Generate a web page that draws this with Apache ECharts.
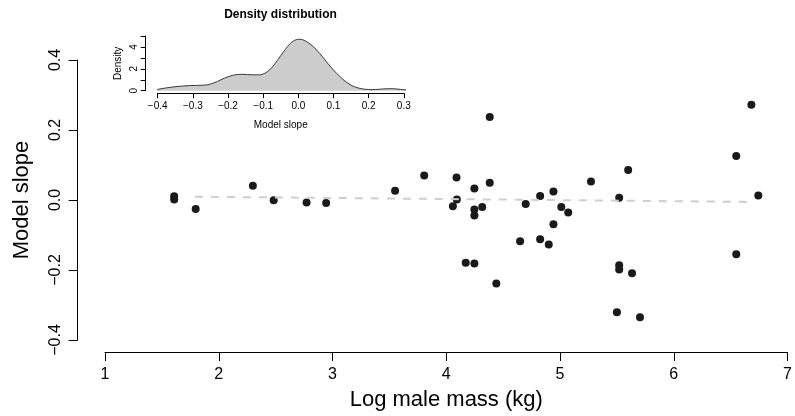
<!DOCTYPE html>
<html><head><meta charset="utf-8">
<script src="https://cdn.jsdelivr.net/npm/echarts@6/dist/echarts.min.js"></script>
<style>html,body{margin:0;padding:0;background:#fff}#c{width:795px;height:416px}</style>
</head><body><div id="c"></div>
<script>
// Main scatter: log male mass (kg) vs model slope
const massX = [1.608, 1.608, 1.797, 2.30, 2.483, 2.772, 2.944, 3.55, 3.806, 4.09, 4.382, 4.247, 4.382, 4.093, 4.058, 4.247, 4.247, 4.316, 4.698, 4.825, 4.942, 5.011, 5.072, 4.942, 4.649, 4.825, 4.901, 4.171, 4.247, 4.44, 6.682, 6.549, 5.599, 5.272, 5.52, 6.743, 6.549, 5.52, 5.52, 5.633, 5.50, 5.703];
const slopeY = [0.011, 0.0015, -0.0256, 0.041, -0.001, -0.007, -0.0085, 0.0265, 0.070, 0.064, 0.237, 0.033, 0.049, 0.0017, -0.018, -0.027, -0.044, -0.020, -0.0114, 0.0114, 0.0245, -0.020, -0.036, -0.0695, -0.118, -0.112, -0.127, -0.179, -0.1815, -0.2385, 0.2724, 0.1254, 0.0855, 0.053, 0.0066, 0.0131, -0.155, -0.1864, -0.1986, -0.209, -0.321, -0.335];
// Fitted trend line (dashed)
const trendX = [1.79, 6.68];
const trendY = [0.0095, -0.0055];
// Inset density curve
const densX = [-0.425, -0.40, -0.375, -0.345, -0.31, -0.27, -0.25, -0.23, -0.21, -0.185, -0.16, -0.13, -0.11, -0.095, -0.08, -0.06, -0.04, -0.02, 0.0, 0.01, 0.03, 0.05, 0.07, 0.09, 0.11, 0.13, 0.15, 0.17, 0.19, 0.21, 0.23, 0.25, 0.27, 0.29, 0.31, 0.335, 0.362];
const densY = [0.0, 0.12, 0.26, 0.38, 0.47, 0.5, 0.6, 0.85, 1.15, 1.42, 1.5, 1.45, 1.45, 1.6, 1.95, 2.75, 3.65, 4.4, 4.7, 4.68, 4.35, 3.8, 3.05, 2.25, 1.55, 0.95, 0.5, 0.25, 0.13, 0.1, 0.13, 0.18, 0.18, 0.12, 0.06, 0.02, 0.0];
// Tick settings
const xTickMin = 1, xTickMax = 7, xTickStep = 1;
const yTickMin = -0.4, yTickMax = 0.4, yTickStep = 0.2;
const insetXMin = -0.4, insetXMax = 0.3, insetXStep = 0.1;
const insetYMin = 0, insetYMax = 5, insetYStep = 1;
const insetYLabels = [0, 2, 4];

const FONT = 'Liberation Sans, Arial, Helvetica, sans-serif';
const minus = s => s.replace('-', '\u2212');
const chart = echarts.init(document.getElementById('c'), null, {renderer: 'canvas'});
const axisCommon = {
  splitLine: {show: false},
  axisLine: {onZero: false, lineStyle: {color: '#000', width: 1}},
  axisTick: {inside: false, lineStyle: {color: '#000', width: 1}},
  nameLocation: 'middle',
  nameTextStyle: {color: '#000', fontFamily: FONT}
};
chart.setOption({
  animation: false,
  backgroundColor: '#fff',
  grid: [
    {left: 105, top: 60, width: 690.8, height: 280.7, containLabel: false},
    {left: 157.7, top: 36, width: 246.1, height: 54.7, containLabel: false}
  ],
  xAxis: [
    Object.assign({}, axisCommon, {
      gridIndex: 0, type: 'value', min: xTickMin, max: xTickMax, interval: xTickStep, offset: 12,
      axisTick: {inside: false, length: 9, lineStyle: {color: '#000'}},
      axisLabel: {fontSize: 16, color: '#000', fontFamily: FONT, margin: 15, formatter: v => String(v)},
      name: 'Log male mass (kg)', nameGap: 37,
      nameTextStyle: {fontSize: 22, color: '#000', fontFamily: FONT}
    }),
    Object.assign({}, axisCommon, {
      gridIndex: 1, type: 'value', min: insetXMin, max: insetXMax, interval: insetXStep, offset: 2.5,
      axisTick: {inside: false, length: 5, lineStyle: {color: '#000'}},
      axisLabel: {fontSize: 10, color: '#000', fontFamily: FONT, margin: 8, formatter: v => minus(v.toFixed(1))},
      name: 'Model slope', nameGap: 27,
      nameTextStyle: {fontSize: 10, color: '#000', fontFamily: FONT}
    })
  ],
  yAxis: [
    Object.assign({}, axisCommon, {
      gridIndex: 0, type: 'value', min: yTickMin, max: yTickMax, interval: yTickStep, offset: 27.3,
      axisTick: {inside: false, length: 9, lineStyle: {color: '#000'}},
      axisLabel: {fontSize: 16, color: '#000', fontFamily: FONT, margin: 14, rotate: 90, formatter: v => minus(v.toFixed(1))},
      name: 'Model slope', nameGap: 45,
      nameTextStyle: {fontSize: 22, color: '#000', fontFamily: FONT}
    }),
    Object.assign({}, axisCommon, {
      gridIndex: 1, type: 'value', min: insetYMin, max: insetYMax, interval: insetYStep, offset: 12,
      axisTick: {inside: false, length: 5, lineStyle: {color: '#000'}},
      axisLabel: {fontSize: 10, color: '#000', fontFamily: FONT, margin: 6, rotate: 90,
        formatter: v => insetYLabels.indexOf(Math.round(v)) >= 0 && Math.abs(v - Math.round(v)) < 1e-6 ? String(Math.round(v)) : ''},
      name: 'Density', nameGap: 22,
      nameTextStyle: {fontSize: 10, color: '#000', fontFamily: FONT}
    })
  ],
  graphic: [{
    type: 'text', x: 280.5, y: 15,
    style: {text: 'Density distribution', fontSize: 12, fontWeight: 'bold', fontFamily: FONT, fill: '#000', align: 'center', verticalAlign: 'middle'}
  }],
  series: [
    {
      type: 'line', xAxisIndex: 1, yAxisIndex: 1, clip: false, smooth: 0.3, symbol: 'none',
      data: densX.map((x, i) => [x, densY[i]]),
      lineStyle: {color: '#3a3a3a', width: 1},
      areaStyle: {color: '#cccccc', opacity: 1}
    },
    {
      type: 'line', xAxisIndex: 0, yAxisIndex: 0, symbol: 'none',
      data: trendX.map((x, i) => [x, trendY[i]]),
      lineStyle: {color: '#cfcfcf', width: 2, type: [8, 8]}
    },
    {
      type: 'scatter', xAxisIndex: 0, yAxisIndex: 0, symbolSize: 8,
      data: massX.map((x, i) => [x, slopeY[i]]),
      itemStyle: {color: '#1a1a1a', opacity: 1}
    }
  ]
});
</script></body></html>
